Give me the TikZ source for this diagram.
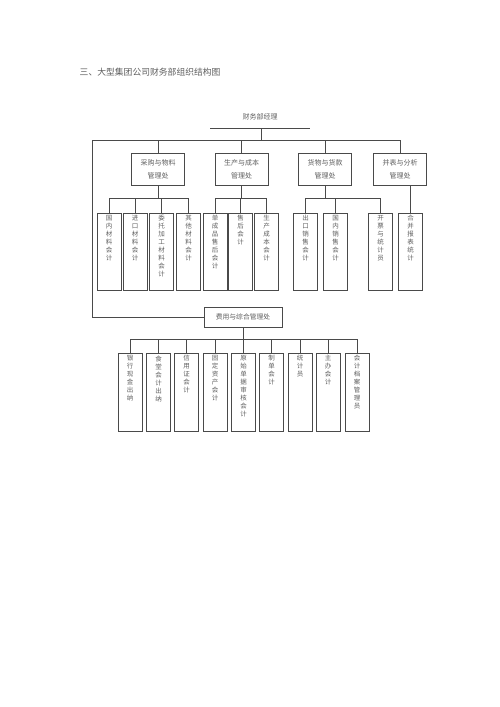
\documentclass[tikz,border=0pt]{standalone}
\usepackage{fontspec}
\newfontfamily\cjk{Noto Sans CJK SC}
\usepackage{tikz}
\definecolor{ink}{HTML}{4A4A4A}
\definecolor{txt}{HTML}{5E5E5E}
\newcommand{\vcol}[1]{\parbox[c][73pt][t]{9pt}{\centering #1}}

\begin{document}
\begin{tikzpicture}[x=1pt, y=-1pt, ink, line width=0.8pt,
    office/.style={draw, text=txt, minimum width=53pt, minimum height=32pt,
        align=center, font=\cjk\fontsize{7}{13}\selectfont},
    leaf/.style={draw, text=txt, minimum width=24pt, minimum height=77pt,
        inner sep=0pt, font=\cjk\fontsize{6.5}{8}\selectfont}]
    \useasboundingbox (0,0) rectangle (500,707);
    \node[anchor=west, text=txt, font=\cjk\fontsize{8.8}{10}\selectfont]
        (title) at (76,72) {三、大型集团公司财务部组织结构图};

    % manager and offices
    \node[text=txt, font=\cjk\fontsize{7}{8}\selectfont] (mgr) at (260,117) {财务部经理};
    \coordinate (ulL) at (210,128);
    \coordinate (ulR) at (310,128);
    \coordinate (ulM) at (261,128);
    \coordinate (busL) at (92,140);
    \draw (ulL) -- (ulR);

    \node[office] (m1) at (158,169) {采购与物料\\管理处};
    \node[office] (m2) at (241.5,169) {生产与成本\\管理处};
    \node[office] (m3) at (325,169) {货物与货款\\管理处};
    \node[office] (m4) at (400,169) {并表与分析\\管理处};
    \node[office, minimum width=78pt, minimum height=20pt,
        font=\cjk\fontsize{6.8}{8}\selectfont] (fee) at (243,317) {费用与综合管理处};

    \draw (ulM) -- (ulM |- busL);
    \draw (m4.north) |- (busL) |- (fee.west);
    \foreach \m in {m1,m2,m3}
        \draw (\m.north) -- (\m.north |- busL);

    % first row of posts
    \node[leaf] (p1) at (109,251.5) {\vcol{国\\内\\材\\料\\会\\计}};
    \node[leaf] (p2) at (135,251.5) {\vcol{进\\口\\材\\料\\会\\计}};
    \node[leaf] (p3) at (161.5,251.5) {\vcol{委\\托\\加\\工\\材\\料\\会\\计}};
    \node[leaf] (p4) at (188.5,251.5) {\vcol{其\\他\\材\\料\\会\\计}};
    \node[leaf] (s1) at (215,251.5) {\vcol{单\\成\\品\\售\\后\\会\\计}};
    \node[leaf] (s2) at (240.5,251.5) {\vcol{售\\后\\会\\计}};
    \node[leaf] (s3) at (266.5,251.5) {\vcol{生\\产\\成\\本\\会\\计}};
    \node[leaf] (x1) at (305.5,251.5) {\vcol{出\\口\\销\\售\\会\\计}};
    \node[leaf] (x2) at (335.5,251.5) {\vcol{国\\内\\销\\售\\会\\计}};
    \node[leaf] (x3) at (380.5,251.5) {\vcol{开\\票\\与\\统\\计\\员}};
    \node[leaf] (h1) at (410.5,251.5) {\vcol{合\\并\\报\\表\\统\\计}};

    \draw (m1.south) -- ++(0,14);
    \draw (p1.north) -- ++(0,-14) -| (p4.north);
    \foreach \c in {p2,p3}
        \draw (\c.north) -- ++(0,-14);
    \draw (m2.south) -- ++(0,14);
    \draw (s1.north) -- ++(0,-14) -| (s3.north);
    \draw (s2.north) -- ++(0,-14);
    \draw (m3.south) -- ++(0,14);
    \draw (x1.north) -- ++(0,-14) -| (x3.north);
    \draw (x2.north) -- ++(0,-14);
    \draw (h1.north) -- (h1.north |- m4.south);

    % second row of posts
    \begin{scope}[leaf/.append style={minimum height=78pt}]
        \node[leaf] (f1) at (130,392) {\vcol{银\\行\\现\\金\\出\\纳}};
        \node[leaf] (f2) at (158.5,392) {\vcol{食\\堂\\会\\计\\出\\纳}};
        \node[leaf] (f3) at (186.5,392) {\vcol{信\\用\\证\\会\\计}};
        \node[leaf] (f4) at (215,392) {\vcol{固\\定\\资\\产\\会\\计}};
        \node[leaf] (f5) at (243.5,392) {\vcol{原\\始\\单\\据\\审\\核\\会\\计}};
        \node[leaf] (f6) at (271.5,392) {\vcol{制\\单\\会\\计}};
        \node[leaf] (f7) at (300,392) {\vcol{统\\计\\员}};
        \node[leaf] (f8) at (328,392) {\vcol{主\\办\\会\\计}};
        \node[leaf] (f9) at (357,392) {\vcol{会\\计\\档\\案\\管\\理\\员}};
    \end{scope}
    \draw (fee.south) -- ++(0,13);
    \draw (f1.north) -- ++(0,-13) -| (f9.north);
    \foreach \c in {f2,f3,f4,f5,f6,f7,f8}
        \draw (\c.north) -- ++(0,-13);
\end{tikzpicture}
\end{document}
